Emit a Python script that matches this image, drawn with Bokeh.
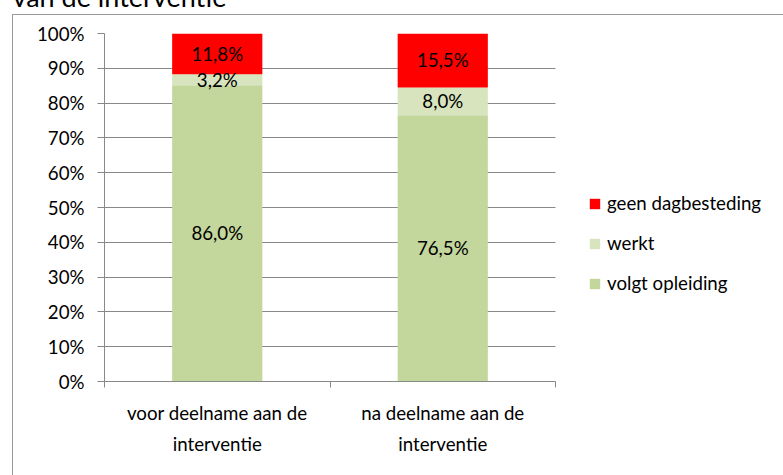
from bokeh.plotting import figure
from bokeh.models import (ColumnDataSource, FixedTicker, Legend, LegendItem, Title, Range1d)
from bokeh.core.properties import value
from bokeh.embed import file_html
from bokeh.resources import INLINE

title_text = "van de interventie"
categories = ["voor deelname aan de\ninterventie", "na deelname aan de\ninterventie"]
series_names = ["volgt opleiding", "werkt", "geen dagbesteding"]
volgt_opleiding = [86.0, 76.5]
werkt = [3.2, 8.0]
geen_dagbesteding = [11.8, 15.5]
colors = ["#C3D69B", "#D7E4BD", "#FF0000"]
y_ticks = [0, 10, 20, 30, 40, 50, 60, 70, 80, 90, 100]
y_tick_labels = ["0%", "10%", "20%", "30%", "40%", "50%", "60%", "70%", "80%", "90%", "100%"]

FONT = "Lato"
GRAY = "#888888"
FS = "18.7px"
SHIFT = 60  # canvas starts above the visible page so the title is cut off like the reference

# layout (pixels)
AX_L, AX_R, FR_R = 104, 555, 781   # y-axis x, end of category axis, right edge of frame
n_cat = len(categories)

series = [volgt_opleiding, werkt, geen_dagbesteding]
xs = [i + 0.5 for i in range(n_cat)]
totals = [sum(s[i] for s in series) for i in range(n_cat)]
keys = ["s0", "s1", "s2"]
data = {"x": xs}
for k, s in zip(keys, series):
    data[k] = [v / t * 100 for v, t in zip(s, totals)]
src = ColumnDataSource(data)

x_end = n_cat * (FR_R - AX_L) / (AX_R - AX_L)

p = figure(width=783, height=475 + SHIFT, output_backend="svg", toolbar_location=None,
           x_range=Range1d(0, x_end), y_range=Range1d(0, 100),
           min_border_left=AX_L, min_border_right=783 - FR_R, min_border_top=33 + SHIFT,
           min_border_bottom=94)
p.margin = (-SHIFT, 0, 0, 0)
p.outline_line_color = None
p.background_fill_color = None
p.border_fill_color = None
p.styles = {
    "background": (f"linear-gradient(#999999, #999999) 12px {14 + SHIFT}px / 1px 100% no-repeat, "
                   f"linear-gradient(#999999, #999999) 12px {14 + SHIFT}px / 100% 1px no-repeat, "
                   "#ffffff"),
}

p.title = Title(text=title_text, text_font=FONT, text_font_size="27px",
                text_font_style="normal", text_color="#000000",
                align="left", vertical_align="bottom", offset=12 - AX_L, standoff=42)

renderers = p.vbar_stack(keys, x="x", width=0.4, color=colors, line_color=None, source=src)

# data labels
lx, ly, lt = [], [], []
for i in range(n_cat):
    base = 0.0
    for k, s in zip(keys, series):
        h = data[k][i]
        lx.append(xs[i])
        ly.append(base + h / 2)
        lt.append(f"{s[i]:.1f}%".replace(".", ","))
        base += h
p.text(x=lx, y=ly, text=lt, text_align="center", text_baseline="middle",
       text_font=value(FONT), text_font_size=FS, text_color="#000000")

# y axis
p.yaxis.ticker = FixedTicker(ticks=y_ticks, minor_ticks=[])
p.yaxis.major_label_overrides = dict(zip(y_ticks, y_tick_labels))
p.yaxis.axis_line_color = GRAY
p.yaxis.major_tick_line_color = GRAY
p.yaxis.major_tick_out = 7
p.yaxis.major_tick_in = 0
p.yaxis.minor_tick_line_color = None
p.yaxis.major_label_standoff = 13
p.yaxis.major_label_text_font = FONT
p.yaxis.major_label_text_font_size = FS
p.yaxis.major_label_text_color = "#000000"

# x axis
p.xaxis.bounds = (0, n_cat)
p.xaxis.ticker = FixedTicker(ticks=xs, minor_ticks=list(range(n_cat + 1)))
p.xaxis.major_label_overrides = dict(zip(xs, categories))
p.xaxis.axis_line_color = GRAY
p.xaxis.major_tick_line_color = None
p.xaxis.major_tick_out = 0
p.xaxis.major_tick_in = 0
p.xaxis.minor_tick_line_color = GRAY
p.xaxis.minor_tick_out = 6
p.xaxis.minor_tick_in = 0
p.xaxis.major_label_standoff = 14
p.xaxis.major_label_text_font = FONT
p.xaxis.major_label_text_font_size = FS
p.xaxis.major_label_text_color = "#000000"
p.xaxis.major_label_text_align = "center"
p.xaxis.major_label_text_line_height = 1.45

p.xgrid.grid_line_color = None
p.ygrid.grid_line_color = GRAY
p.ygrid.cross_bounds = (0, n_cat)

# legend
legend = Legend(items=[LegendItem(label=series_names[2], renderers=[renderers[2]]),
                       LegendItem(label=series_names[1], renderers=[renderers[1]]),
                       LegendItem(label=series_names[0], renderers=[renderers[0]])],
                location=(588 - AX_L, 381 - 294), border_line_color=None, background_fill_alpha=0,
                label_text_font=FONT, label_text_font_size=FS, label_text_color="#000000",
                glyph_width=13, glyph_height=13, spacing=18, padding=0, margin=0,
                label_standoff=6, label_height=22)
p.add_layout(legend)

open("out.html", "w").write(file_html(p, INLINE))
